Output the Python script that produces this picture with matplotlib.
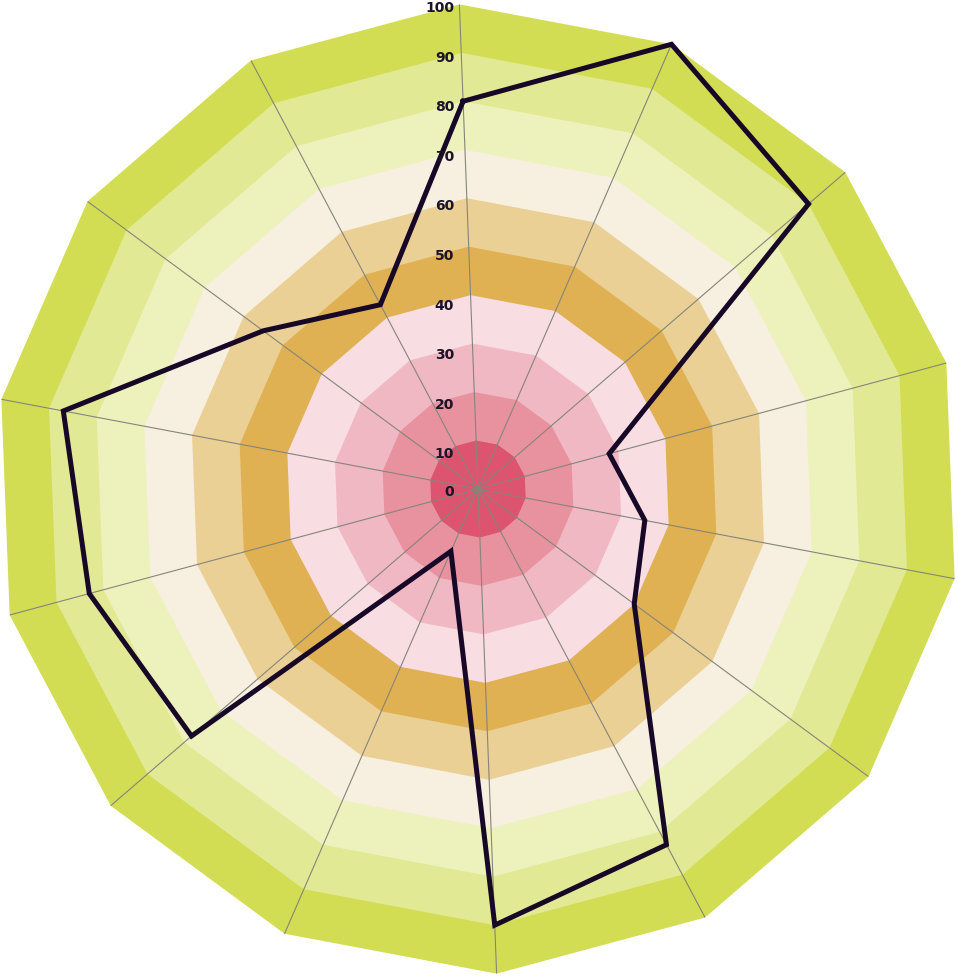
import numpy as np
import matplotlib
matplotlib.use("Agg")
import matplotlib.pyplot as plt

# values, clockwise from the (slightly tilted) top spoke
values = [80, 100, 90, 28, 35, 40, 83, 90, 14, 78, 83, 87, 55, 43]
ring_levels = [10, 20, 30, 40, 50, 60, 70, 80, 90, 100]
ring_colors = ["#dc546f", "#e8929f", "#f0b8c3", "#f8dde2", "#dfb152",
               "#ebd096", "#f7efdf", "#edf2bd", "#e1e995", "#d2dd53"]
tick_values = [0, 10, 20, 30, 40, 50, 60, 70, 80, 90, 100]

n = len(values)
angles = np.linspace(0, 2 * np.pi, n, endpoint=False)
angles_c = np.append(angles, angles[0])
values_c = np.append(values, values[0])

W, H = 958, 978
cx, cy, R = 478, 490, 485
fig = plt.figure(figsize=(W / 100, H / 100), dpi=100)
ax = fig.add_axes([(cx - R) / W, (H - cy - R) / H, 2 * R / W, 2 * R / H],
                  projection="polar")
ax.set_theta_zero_location("N", offset=2.2)
ax.set_theta_direction(-1)
ax.set_ylim(0, 100)
ax.grid(False)
ax.set_xticks([])
ax.set_yticks([])
ax.spines["polar"].set_visible(False)
ax.patch.set_alpha(0)

# banded polygon background, outer first
for lvl, col in zip(ring_levels[::-1], ring_colors[::-1]):
    ax.fill(angles_c, [lvl] * (n + 1), color=col, lw=0, zorder=1)

# spokes
for a in angles:
    ax.plot([a, a], [0, 100], color="#85857a", lw=0.8, zorder=2)

ax.plot(angles_c, values_c, color="#170828", lw=3.6, solid_joinstyle="miter",
        zorder=4, clip_on=False)

# value labels on a vertical line left of the centre
up = np.radians(2.2)
for v in tick_values:
    dy = -2 if v == 0 else -(14 - 0.11 * v)
    ax.annotate(str(v), xy=(up, v), xytext=(-24, dy), textcoords="offset pixels",
                ha="right", va="center", fontsize=10, fontweight="bold",
                color="#1a1428", zorder=5, annotation_clip=False)

fig.savefig("out.png", dpi=100)
